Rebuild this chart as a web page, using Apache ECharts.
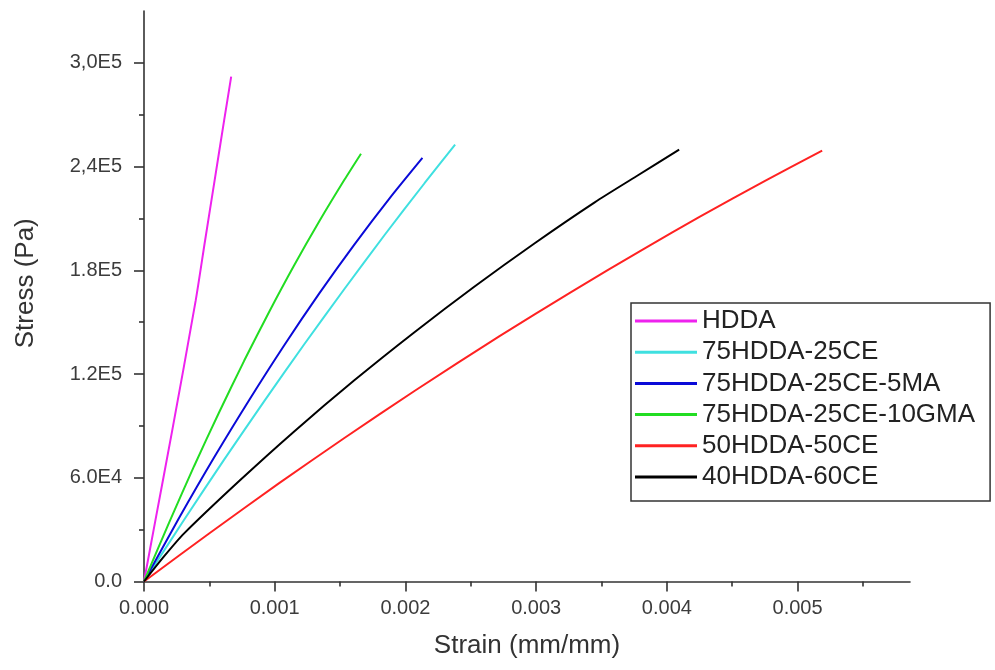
<!DOCTYPE html>
<html>
<head>
<meta charset="utf-8">
<script src="https://cdn.jsdelivr.net/npm/echarts@6/dist/echarts.min.js"></script>
<style>
html,body{margin:0;padding:0;background:#fff;}
#chart{width:995px;height:670px;}
</style>
</head>
<body>
<div id="chart"></div>
<script>
// ---- data ----
const seriesNames = ['HDDA', '75HDDA-25CE', '75HDDA-25CE-5MA', '75HDDA-25CE-10GMA', '50HDDA-50CE', '40HDDA-60CE'];
const seriesColors = ['#ee22ee', '#3fe0e0', '#0a0ad8', '#22dd22', '#ff2222', '#000000'];

const hddaStrain = [0, 0.0000858, 0.000215, 0.000395, 0.000467, 0.00054, 0.000613, 0.000667];
const hddaStress = [0, 34780, 86960, 162300, 197100, 231900, 266700, 292000];

const ce25Strain = [0, 0.000307, 0.000613, 0.00092, 0.001226, 0.001533, 0.001839, 0.002146, 0.00238];
const ce25Stress = [0, 35710, 70490, 104350, 137220, 169210, 200290, 230370, 252750];

const ma5Strain = [0, 0.000268, 0.000536, 0.000805, 0.001073, 0.001341, 0.001609, 0.001877, 0.00213];
const ma5Stress = [0, 36700, 71710, 105040, 136690, 166660, 194890, 221500, 245040];

const gma10Strain = [0, 0.000192, 0.000383, 0.000575, 0.000766, 0.000958, 0.001149, 0.001341, 0.001533, 0.00166];
const gma10Stress = [0, 34090, 66690, 97910, 127650, 156000, 182870, 208350, 232340, 247470];

const ce50Strain = [0, 0.000498, 0.001034, 0.001533, 0.002069, 0.00272, 0.003264, 0.003831, 0.004253, 0.004751, 0.005188];
const ce50Stress = [0, 27800, 56900, 83000, 110200, 141900, 167300, 192700, 211000, 231700, 249300];

const ce60Strain = [0, 0.000153, 0.000307, 0.000728, 0.001149, 0.001609, 0.002069, 0.002529, 0.002989, 0.003448, 0.00377, 0.004094];
const ce60Stress = [0, 14490, 27830, 58110, 86810, 116370, 144200, 170640, 195680, 219330, 234550, 249850];

const xMajorTicks = [0, 0.001, 0.002, 0.003, 0.004, 0.005];
const xMinorTicks = [0.0005, 0.0015, 0.0025, 0.0035, 0.0045, 0.0055];
const xTickLabels = ['0.000', '0.001', '0.002', '0.003', '0.004', '0.005'];
const yMajorTicks = [0, 60000, 120000, 180000, 240000, 300000];
const yMinorTicks = [30000, 90000, 150000, 210000, 270000];
const yTickLabels = ['0.0', '6.0E4', '1.2E5', '1.8E5', '2,4E5', '3,0E5'];

const xMax = 0.00586;
const yMax = 330000;

// ---- chart ----
const strains = [hddaStrain, ce25Strain, ma5Strain, gma10Strain, ce50Strain, ce60Strain];
const stresses = [hddaStress, ce25Stress, ma5Stress, gma10Stress, ce50Stress, ce60Stress];

function pairs(xs, ys) { return xs.map((x, i) => [x, ys[i]]); }
function labelFor(ticks, labels) {
  return function (v) {
    for (let i = 0; i < ticks.length; i++) {
      if (Math.abs(v - ticks[i]) < 1e-9 * Math.max(1, Math.abs(ticks[i]))) return labels[i];
    }
    return '';
  };
}

const FONT = "'Liberation Sans', Arial, sans-serif";
const axisColor = '#333333';
const labelColor = '#3c3c3c';

const chart = echarts.init(document.getElementById('chart'), null, { renderer: 'canvas' });

const series = seriesNames.map((name, i) => ({
  name: name,
  type: 'line',
  xAxisIndex: 0,
  yAxisIndex: 0,
  data: pairs(strains[i], stresses[i]),
  showSymbol: false,
  symbol: 'none',
  smooth: 0.25,
  lineStyle: { color: seriesColors[i], width: 2 },
  itemStyle: { color: seriesColors[i] },
  z: 3
}));

chart.setOption({
  animation: false,
  backgroundColor: '#ffffff',
  grid: { left: 144, right: 85, top: 11, bottom: 88.5, containLabel: false },
  legend: {
    orient: 'vertical',
    left: 631,
    top: 303,
    padding: [5, 15, 11, 4],
    itemGap: 5.2,
    itemWidth: 62,
    itemHeight: 3,
    icon: 'rect',
    borderColor: '#333333',
    borderWidth: 1.5,
    backgroundColor: '#ffffff',
    textStyle: { fontFamily: FONT, fontSize: 26, color: '#222222', padding: [0, 0, 0, 0] },
    data: seriesNames
  },
  xAxis: [
    {
      type: 'value',
      min: 0, max: xMax,
      position: 'bottom',
      name: 'Strain (mm/mm)',
      nameLocation: 'middle',
      nameGap: 51,
      nameTextStyle: { fontFamily: FONT, fontSize: 26, color: '#333333' },
      axisLine: { show: true, onZero: false, lineStyle: { color: axisColor, width: 1.6 } },
      axisTick: { show: true, inside: false, length: 10, customValues: xMajorTicks, lineStyle: { color: axisColor, width: 1.6 } },
      axisLabel: { show: true, margin: 17, customValues: xMajorTicks, formatter: labelFor(xMajorTicks, xTickLabels), fontFamily: FONT, fontSize: 20, color: labelColor },
      splitLine: { show: false }
    },
    {
      type: 'value',
      min: 0, max: xMax,
      position: 'bottom',
      gridIndex: 0,
      axisLine: { show: false, onZero: false },
      axisTick: { show: true, inside: false, length: 5, customValues: xMinorTicks, lineStyle: { color: axisColor, width: 1.6 } },
      axisLabel: { show: false },
      splitLine: { show: false }
    }
  ],
  yAxis: [
    {
      type: 'value',
      min: 0, max: yMax,
      position: 'left',
      name: 'Stress (Pa)',
      nameLocation: 'middle',
      nameGap: 105,
      nameTextStyle: { fontFamily: FONT, fontSize: 26, color: '#333333', padding: [0, 0, 0, 26] },
      axisLine: { show: true, onZero: false, lineStyle: { color: axisColor, width: 1.6 } },
      axisTick: { show: true, inside: false, length: 10, customValues: yMajorTicks, lineStyle: { color: axisColor, width: 1.6 } },
      axisLabel: { show: true, margin: 22, customValues: yMajorTicks, formatter: labelFor(yMajorTicks, yTickLabels), fontFamily: FONT, fontSize: 20, color: labelColor },
      splitLine: { show: false }
    },
    {
      type: 'value',
      min: 0, max: yMax,
      position: 'left',
      gridIndex: 0,
      axisLine: { show: false, onZero: false },
      axisTick: { show: true, inside: false, length: 5, customValues: yMinorTicks, lineStyle: { color: axisColor, width: 1.6 } },
      axisLabel: { show: false },
      splitLine: { show: false }
    }
  ],
  series: series
});
</script>
</body>
</html>
